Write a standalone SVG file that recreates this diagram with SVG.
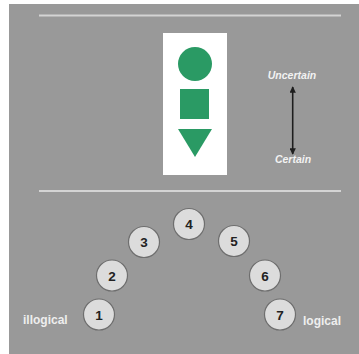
<svg xmlns="http://www.w3.org/2000/svg" width="359" height="354" viewBox="0 0 359 354">
  <style>
    .rule { stroke: #d4d4d4; stroke-width: 2; }
    .shape { fill: #2a9a64; }
    .dot { fill: #dcdcdc; stroke: #6e6e6e; stroke-width: 1.2; }
    .num { font-family: "Liberation Sans", Arial, sans-serif; font-weight: bold; font-size: 13.5px; fill: #222; text-anchor: middle; }
    .end { font-family: "Liberation Sans", Arial, sans-serif; font-weight: bold; font-size: 12px; fill: #eeeeee; }
    .scale { font-family: "Liberation Sans", Arial, sans-serif; font-weight: bold; font-style: italic; font-size: 10.5px; fill: #f2f2f2; text-anchor: middle; }
  </style>
  <defs>
    <marker id="head" viewBox="0 0 10 10" refX="9" refY="5" markerWidth="4" markerHeight="4" orient="auto-start-reverse">
      <path d="M0,0 L10,5 L0,10 z" fill="#1e1e1e"/>
    </marker>
  </defs>

  <!-- backdrop -->
  <rect x="0" y="0" width="359" height="354" fill="#ffffff"/>
  <rect x="9" y="4" width="350" height="350" fill="#999999"/>

  <!-- dividers -->
  <line class="rule" x1="39" y1="15.5" x2="341" y2="15.5"/>
  <line class="rule" x1="39" y1="191" x2="341" y2="191"/>

  <!-- shape legend -->
  <g id="legend">
    <rect x="163" y="33" width="64" height="142" fill="#ffffff"/>
    <circle class="shape" cx="195" cy="64" r="17"/>
    <rect class="shape" x="180" y="89" width="29" height="30"/>
    <polygon class="shape" points="178,129 212,129 195,157"/>
  </g>

  <!-- certainty scale -->
  <g id="scale">
    <text class="scale" x="292" y="79">Uncertain</text>
    <text class="scale" x="293" y="163">Certain</text>
  </g>

  <g id="connectors">
    <line x1="292.7" y1="87" x2="292.7" y2="154" stroke="#1e1e1e" stroke-width="1.6" marker-start="url(#head)" marker-end="url(#head)"/>
  </g>

  <!-- numbered arc -->
  <g id="n1"><circle class="dot" cx="99" cy="314.5" r="15.5"/><text class="num" x="99" y="319.5">1</text></g>
  <g id="n2"><circle class="dot" cx="112" cy="275.5" r="15.5"/><text class="num" x="112" y="280.5">2</text></g>
  <g id="n3"><circle class="dot" cx="144" cy="242" r="15.5"/><text class="num" x="144" y="247">3</text></g>
  <g id="n4"><circle class="dot" cx="189" cy="224" r="15.5"/><text class="num" x="189" y="229">4</text></g>
  <g id="n5"><circle class="dot" cx="234" cy="241" r="15.5"/><text class="num" x="234" y="246">5</text></g>
  <g id="n6"><circle class="dot" cx="265" cy="275.5" r="15.5"/><text class="num" x="265" y="280.5">6</text></g>
  <g id="n7"><circle class="dot" cx="280" cy="314.5" r="15.5"/><text class="num" x="280" y="319.5">7</text></g>

  <g id="labels">
    <text class="end" x="23" y="324">illogical</text>
    <text class="end" x="303" y="324.5">logical</text>
  </g>
</svg>
